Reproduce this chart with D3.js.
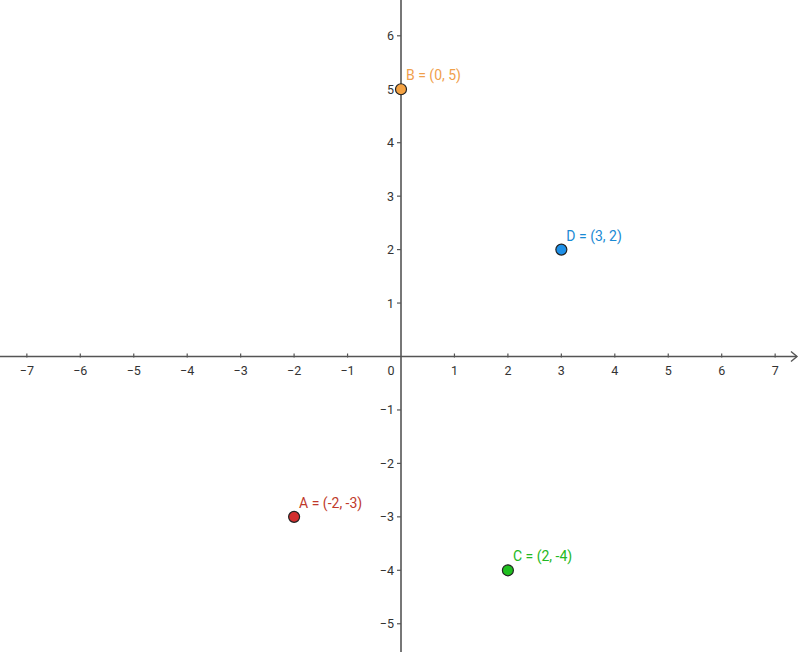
<!DOCTYPE html>
<html><head><meta charset="utf-8">
<script src="https://cdn.jsdelivr.net/npm/d3@7"></script>
<style>body{margin:0;background:#fff}svg{display:block}</style>
</head><body>
<script>
const pointNames = ["A","B","C","D"];
const pointX = [-2, 0, 2, 3];
const pointY = [-3, 5, -4, 2];
const pointLabels = ["A = (-2, -3)","B = (0, 5)","C = (2, -4)","D = (3, 2)"];
const fillColors = ["#d32f2f","#f4a243","#1fbf1f","#1e90e8"];
const labelColors = ["#c0392b","#f0a04b","#22b822","#1a8ad4"];
const xTicks = [-7,-6,-5,-4,-3,-2,-1,1,2,3,4,5,6,7];
const yTicks = [-5,-4,-3,-2,-1,1,2,3,4,5,6];

const W = 800, H = 652;
const unit = 53.45, ox = 401, oy = 356.5;
const x = d3.scaleLinear().domain([0,1]).range([ox, ox+unit]);
const y = d3.scaleLinear().domain([0,1]).range([oy, oy-unit]);

const svg = d3.select("body").append("svg").attr("width",W).attr("height",H)
  .style("font-family","Roboto, 'Noto Sans', sans-serif");

const axisColor = "#555";
// x axis line
svg.append("line").attr("x1",0).attr("x2",797).attr("y1",oy).attr("y2",oy)
  .attr("stroke",axisColor).attr("stroke-width",1.6);
svg.append("path").attr("d",`M${791},${oy-5} L${797},${oy} L${791},${oy+5}`)
  .attr("fill","none").attr("stroke",axisColor).attr("stroke-width",1.4);
// y axis line
svg.append("line").attr("x1",ox).attr("x2",ox).attr("y1",0).attr("y2",H)
  .attr("stroke",axisColor).attr("stroke-width",1.6);

// x ticks
const xg = svg.append("g");
xg.selectAll("line").data(xTicks).join("line")
  .attr("x1",d=>x(d)).attr("x2",d=>x(d)).attr("y1",oy-3).attr("y2",oy+1)
  .attr("stroke",axisColor).attr("stroke-width",1.2);
xg.selectAll("text").data(xTicks).join("text")
  .attr("x",d=>x(d)).attr("y",oy+18).attr("text-anchor","middle")
  .attr("font-size",12.5).attr("fill","#333")
  .text(d=>d<0?"\u2212"+(-d):d);
svg.append("text").attr("x",ox-10).attr("y",oy+18).attr("text-anchor","middle")
  .attr("font-size",12.5).attr("fill","#333").text("0");

// y ticks
const yg = svg.append("g");
yg.selectAll("line").data(yTicks).join("line")
  .attr("x1",ox-4).attr("x2",ox).attr("y1",d=>y(d)).attr("y2",d=>y(d))
  .attr("stroke",axisColor).attr("stroke-width",1.2);
yg.selectAll("text").data(yTicks).join("text")
  .attr("x",ox-7).attr("y",d=>y(d)+4.5).attr("text-anchor","end")
  .attr("font-size",12.5).attr("fill","#333")
  .text(d=>d<0?"\u2212"+(-d):d);

// points
const pts = pointNames.map((n,i)=>({n, x:pointX[i], y:pointY[i], label:pointLabels[i], fill:fillColors[i], lc:labelColors[i]}));
const pg = svg.append("g");
pg.selectAll("circle").data(pts).join("circle")
  .attr("cx",d=>x(d.x)).attr("cy",d=>y(d.y)).attr("r",5.5)
  .attr("fill",d=>d.fill).attr("stroke","#222").attr("stroke-width",1.2);
pg.selectAll("text").data(pts).join("text")
  .attr("x",d=>x(d.x)+5).attr("y",d=>y(d.y)-9)
  .attr("font-size",14).attr("fill",d=>d.lc).text(d=>d.label);
</script>
</body></html>
